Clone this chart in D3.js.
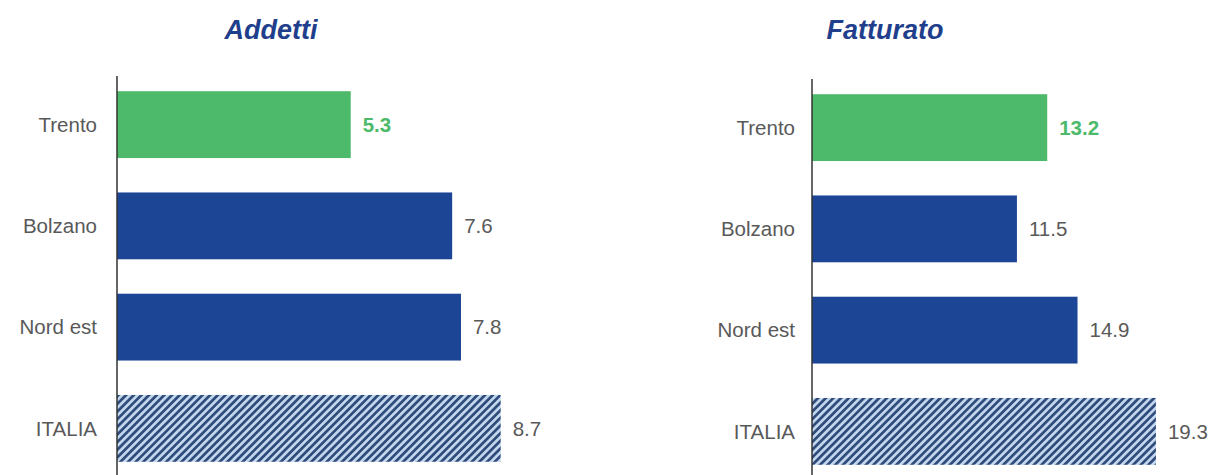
<!DOCTYPE html>
<html>
<head>
<meta charset="utf-8">
<script src="https://cdn.jsdelivr.net/npm/d3@7"></script>
<style>
  body { margin: 0; background: #fff; }
  svg { display: block; font-family: "Liberation Sans", Arial, sans-serif; }
</style>
</head>
<body>
<div id="chart"></div>
<script>
const categories = ["Trento", "Bolzano", "Nord est", "ITALIA"];
const addetti = [5.3, 7.6, 7.8, 8.7];
const fatturato = [13.2, 11.5, 14.9, 19.3];
const titles = ["Addetti", "Fatturato"];

const W = 1215, H = 475;
const GREEN = "#4cba6a", BLUE = "#1d4596", TITLE = "#1f3f8c", GREY = "#595959";

const svg = d3.select("#chart").append("svg")
  .attr("width", W)
  .attr("height", H);

// hatch for ITALIA bars
const pat = svg.append("defs").append("pattern")
  .attr("id", "hatch")
  .attr("patternUnits", "userSpaceOnUse")
  .attr("width", 5.4)
  .attr("height", 5.4)
  .attr("patternTransform", "rotate(45)");
pat.append("rect").attr("width", 5.4).attr("height", 5.4).attr("fill", "#c2d6ec");
pat.append("rect").attr("width", 2.7).attr("height", 5.4).attr("fill", "#2f4c7c");

const panels = [
  { title: titles[0], values: addetti, axisX: 117, unit: 44.1, y0: 74, titleX: 271, labelX: 97 },
  { title: titles[1], values: fatturato, axisX: 812, unit: 17.82, y0: 77, titleX: 885, labelX: 795 }
];

panels.forEach(p => {
  const data = categories.map((c, i) => ({ cat: c, val: p.values[i], i }));

  const x = d3.scaleLinear()
    .domain([0, 10])
    .range([p.axisX, p.axisX + p.unit * 10]);

  const y = d3.scaleBand()
    .domain(categories)
    .range([p.y0, p.y0 + 405])
    .paddingInner(0.34)
    .paddingOuter(0.17);

  const g = svg.append("g");

  g.append("text")
    .attr("x", p.titleX)
    .attr("y", 39)
    .attr("text-anchor", "middle")
    .attr("font-size", 27)
    .attr("font-weight", "bold")
    .attr("font-style", "italic")
    .attr("fill", TITLE)
    .text(p.title);

  g.selectAll(".bar")
    .data(data)
    .join("rect")
    .attr("class", "bar")
    .attr("x", x(0))
    .attr("y", d => y(d.cat))
    .attr("width", d => x(d.val) - x(0))
    .attr("height", y.bandwidth())
    .attr("fill", d => d.i === 0 ? GREEN : d.i === 3 ? "url(#hatch)" : BLUE);

  // category labels
  g.selectAll(".cat")
    .data(data)
    .join("text")
    .attr("class", "cat")
    .attr("x", p.labelX)
    .attr("y", d => y(d.cat) + y.bandwidth() / 2)
    .attr("dy", "0.35em")
    .attr("text-anchor", "end")
    .attr("font-size", 20.5)
    .attr("fill", GREY)
    .text(d => d.cat);

  // value labels
  g.selectAll(".val")
    .data(data)
    .join("text")
    .attr("class", "val")
    .attr("x", d => x(d.val) + 12)
    .attr("y", d => y(d.cat) + y.bandwidth() / 2)
    .attr("dy", "0.35em")
    .attr("font-size", 20.5)
    .attr("font-weight", d => d.i === 0 ? "bold" : "normal")
    .attr("fill", d => d.i === 0 ? GREEN : GREY)
    .text(d => d3.format(".1f")(d.val));

  // axis line
  g.append("line")
    .attr("x1", x(0))
    .attr("x2", x(0))
    .attr("y1", p.y0 + 2)
    .attr("y2", H)
    .attr("stroke", "#333")
    .attr("stroke-width", 1.5);
});
</script>
</body>
</html>
